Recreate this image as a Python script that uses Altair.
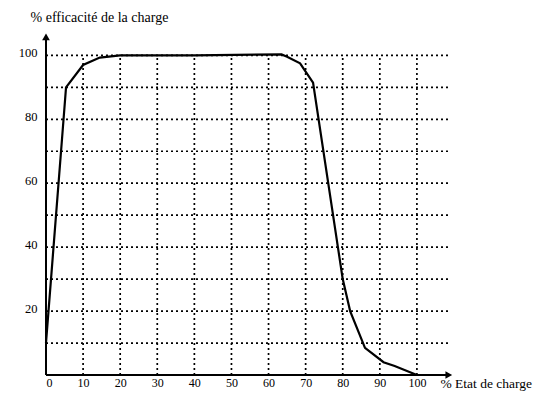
import altair as alt
import pandas as pd

# Curve: % charge efficiency vs state of charge
soc = [0, 4.3, 5.4, 10, 14.5, 20, 40, 63.5, 65, 68.5, 72, 80, 82, 86, 91, 94, 100]
eff = [10, 73.6, 90, 97, 99.3, 100, 100, 100.3, 99.6, 97.5, 91.5, 30, 20, 8.5, 4, 2.8, 0]

x_ticks = [0, 10, 20, 30, 40, 50, 60, 70, 80, 90, 100]
y_ticks = [20, 40, 60, 80, 100]
v_grid = [10, 20, 30, 40, 50, 60, 70, 80, 90, 100]
h_grid = [10, 20, 30, 40, 50, 60, 70, 80, 90, 100]
grid_top = 100
grid_right = 109
x_max = 110
y_max = 107
x_arrow_end = 108.6
y_arrow_end = 105.8

FONT = "Liberation Serif"
xs = alt.Scale(domain=[0, x_max], nice=False, zero=False)
ys = alt.Scale(domain=[0, y_max], nice=False, zero=False)

x_axis = alt.Axis(
    values=x_ticks, domain=False, ticks=False, grid=False,
    labelFont=FONT, labelFontSize=12, labelColor="black", labelPadding=2,
    title="% Etat de charge", titleFont=FONT, titleFontSize=13.5, titleFontWeight="normal",
    titleColor="black", titleAlign="left", titleBaseline="alphabetic",
    titleX=394, titleY=12,
)
y_axis = alt.Axis(
    values=y_ticks, domain=False, ticks=False, grid=False,
    labelFont=FONT, labelFontSize=12.5, labelColor="black", labelPadding=9, labelOffset=-3,
    title="% efficacité de la charge", titleFont=FONT, titleFontSize=14, titleFontWeight="normal",
    titleColor="black", titleAngle=0, titleAlign="left", titleBaseline="alphabetic",
    titleX=-16, titleY=-12,
)

curve_df = pd.DataFrame({"x": soc, "y": eff})
vg_df = pd.DataFrame({"x": v_grid, "y": [0] * len(v_grid), "y1": [grid_top] * len(v_grid)})
hg_df = pd.DataFrame({"y": h_grid, "x": [0] * len(h_grid), "x1": [grid_right] * len(h_grid)})
xaxis_df = pd.DataFrame({"x": [0], "x1": [x_arrow_end], "y": [0]})
yaxis_df = pd.DataFrame({"x": [0], "y": [0], "y1": [y_arrow_end]})


def X(field):
    return alt.X(field, type="quantitative", scale=xs, axis=x_axis)


def Y(field):
    return alt.Y(field, type="quantitative", scale=ys, axis=y_axis)


vgrid = alt.Chart(vg_df).mark_rule(color="black", strokeWidth=1.7, strokeDash=[2, 3]).encode(
    x=X("x"), y=Y("y"), y2="y1:Q",
)
hgrid = alt.Chart(hg_df).mark_rule(color="black", strokeWidth=1.7, strokeDash=[2, 3]).encode(
    y=Y("y"), x=X("x"), x2="x1:Q",
)
xaxis_line = alt.Chart(xaxis_df).mark_rule(color="black", strokeWidth=2).encode(
    x=X("x"), x2="x1:Q", y=Y("y"),
)
xaxis_head = alt.Chart(xaxis_df).mark_point(shape="triangle-right", filled=True, color="black", size=60, opacity=1).encode(
    x=X("x1"), y=Y("y"),
)
yaxis_line = alt.Chart(yaxis_df).mark_rule(color="black", strokeWidth=2).encode(
    x=X("x"), y=Y("y"), y2="y1:Q",
)
yaxis_head = alt.Chart(yaxis_df).mark_point(shape="triangle-up", filled=True, color="black", size=60, opacity=1).encode(
    x=X("x"), y=Y("y1"),
)
curve = alt.Chart(curve_df).mark_line(color="black", strokeWidth=2.2).encode(
    x=X("x"), y=Y("y"), order=alt.Order("x:Q"),
)

chart = alt.layer(vgrid, hgrid, xaxis_line, yaxis_line, curve, xaxis_head, yaxis_head).properties(
    width=408, height=342,
    autosize=alt.AutoSizeParams(type="none"),
    padding={"left": 38, "top": 25, "right": 81, "bottom": 16},
    background="white",
).configure_view(stroke=None)

chart.save("out.html", embed_options={"renderer": "svg", "actions": False})
